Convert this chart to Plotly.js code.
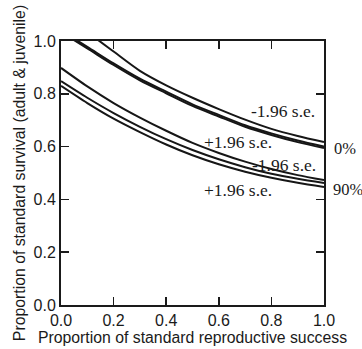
<!DOCTYPE html>
<html>
<head>
<meta charset="utf-8">
<script src="https://cdn.plot.ly/plotly-3.0.1.min.js"></script>
<style>
  html, body { margin: 0; padding: 0; background: #fff; }
  #chart { width: 362px; height: 349px; }
</style>
</head>
<body>
<div id="chart"></div>
<script>
// Proportion of standard reproductive success (x)
const reproSuccess = [0.0, 0.1, 0.2, 0.3, 0.4, 0.5, 0.6, 0.7, 0.8, 0.9, 1.0];

// 0% group: required survival, lower bound / mean / upper bound
const surv0Minus = [1.12, 1.035, 0.96, 0.887, 0.832, 0.785, 0.742, 0.702, 0.667, 0.64, 0.617];
const surv0Mean  = [1.04, 0.978, 0.915, 0.857, 0.808, 0.76, 0.72, 0.681, 0.65, 0.623, 0.60];
const surv0Plus  = [1.034, 0.972, 0.909, 0.851, 0.802, 0.754, 0.714, 0.675, 0.644, 0.617, 0.595];

// 90% group
const surv90Minus = [0.898, 0.828, 0.765, 0.71, 0.66, 0.614, 0.576, 0.543, 0.515, 0.492, 0.473];
const surv90Mean  = [0.848, 0.785, 0.727, 0.675, 0.628, 0.587, 0.552, 0.522, 0.497, 0.478, 0.462];
const surv90Plus  = [0.83, 0.765, 0.706, 0.655, 0.608, 0.567, 0.533, 0.505, 0.482, 0.463, 0.447];

const tickVals = [0, 0.2, 0.4, 0.6, 0.8, 1.0];
const tickText = ['0.0', '0.2', '0.4', '0.6', '0.8', '1.0'];

const lineColor = '#161616';
const curve = y => ({
  x: reproSuccess, y: y, type: 'scatter', mode: 'lines',
  line: { color: lineColor, width: 2, shape: 'spline', smoothing: 0.8 },
  hoverinfo: 'skip', showlegend: false
});

const traces = [surv0Minus, surv0Mean, surv0Plus, surv90Minus, surv90Mean, surv90Plus].map(curve);

const serifFamily = 'Liberation Serif, Times New Roman, serif';
const seLabelFont = { family: serifFamily, size: 17.5, color: '#1a1a1a' };
const pctFont = { family: serifFamily, size: 16.5, color: '#1a1a1a' };
const sansFamily = 'Liberation Sans, Arial, sans-serif';
const tickFont = { family: sansFamily, size: 16, color: '#1a1a1a' };

const note = (text, x, y, xanchor, font, xref) => ({
  text: text, x: x, y: y, xref: xref || 'x', yref: 'y',
  xanchor: xanchor, yanchor: 'middle', showarrow: false, font: font
});

const axisBase = {
  range: [0, 1], showline: true, linecolor: '#1a1a1a', linewidth: 2,
  mirror: 'ticks', ticks: 'inside', ticklen: 8, tickwidth: 1.5, tickcolor: '#1a1a1a',
  tickvals: tickVals, ticktext: tickText, showgrid: false, zeroline: false,
  tickfont: tickFont, fixedrange: true
};

const layout = {
  width: 362, height: 349,
  margin: { l: 61, r: 38, t: 41, b: 44 },
  paper_bgcolor: '#fff', plot_bgcolor: '#fff',
  xaxis: Object.assign({}, axisBase, {
    title: { text: 'Proportion of standard reproductive success',
             font: { family: sansFamily, size: 15.8, color: '#1a1a1a' }, standoff: 2 }
  }),
  yaxis: Object.assign({}, axisBase, {
    title: { text: 'Proportion of standard survival (adult & juvenile)',
             font: { family: sansFamily, size: 15.8, color: '#1a1a1a' }, standoff: 4 }
  }),
  annotations: [
    note('-1.96 s.e.', 0.973, 0.735, 'right', seLabelFont),
    note('+1.96 s.e.', 0.536, 0.617, 'left', seLabelFont),
    note('-1.96 s.e.', 0.977, 0.530, 'right', seLabelFont),
    note('+1.96 s.e.', 0.536, 0.436, 'left', seLabelFont),
    note('0%', 1.03, 0.591, 'left', pctFont, 'paper'),
    note('90%', 1.027, 0.436, 'left', pctFont, 'paper')
  ]
};

Plotly.newPlot('chart', traces, layout, { staticPlot: true, displayModeBar: false });
</script>
</body>
</html>
